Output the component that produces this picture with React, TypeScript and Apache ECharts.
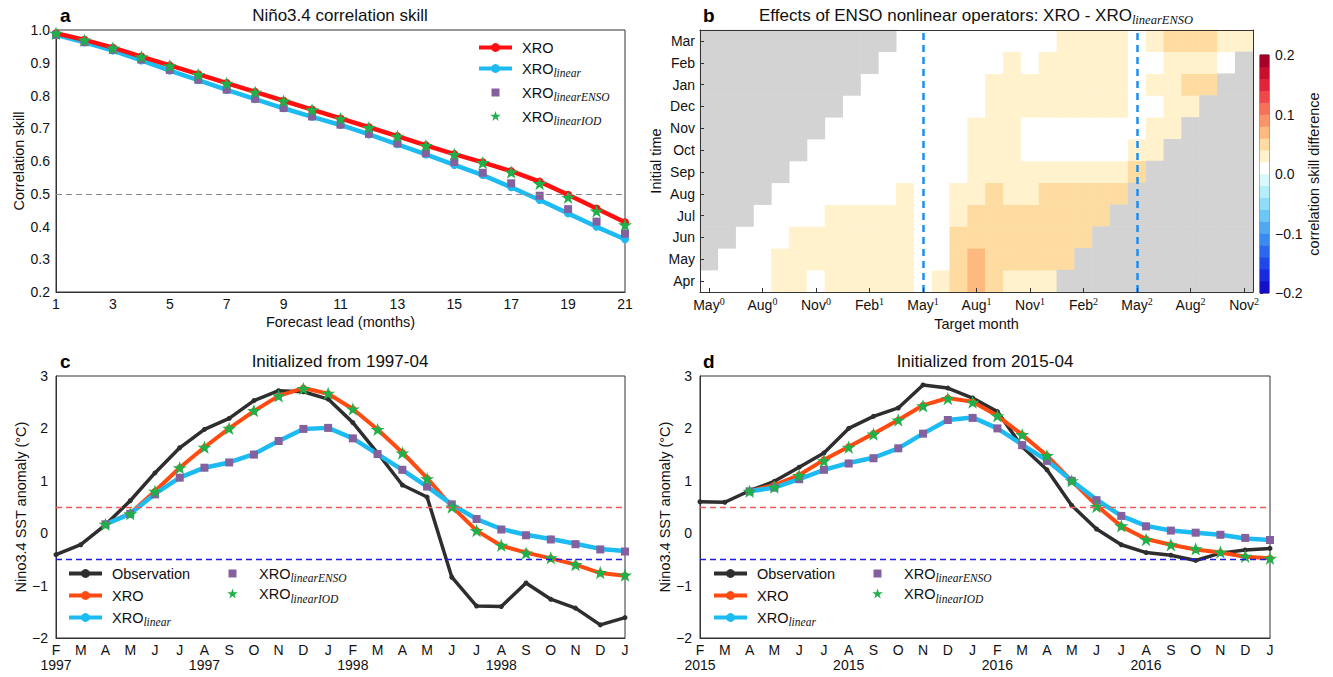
import React, { useEffect, useRef } from 'react';
import * as echarts from 'echarts';

const FONT = '"Liberation Sans", Arial, Helvetica, sans-serif';
const SERIF = '"Liberation Serif", "DejaVu Serif", serif';
const STAR = 'path://M0,-10L2.245,-3.09L9.511,-3.09L3.633,1.18L5.878,8.09L0,3.82L-5.878,8.09L-3.633,1.18L-9.511,-3.09L-2.245,-3.09Z';
const LEGEND_SQUARE = 'path://M-1.5,-1.5M0,0L8,0L8,8L0,8Z M9.5,9.5';
const LEGEND_STAR = 'path://M-10,-10M0,-10L2.245,-3.09L9.511,-3.09L3.633,1.18L5.878,8.09L0,3.82L-5.878,8.09L-3.633,1.18L-9.511,-3.09L-2.245,-3.09Z M10,10';

// ---------- Panel a: correlation skill vs lead ----------
const leads = ['1', '2', '3', '4', '5', '6', '7', '8', '9', '10', '11', '12', '13', '14', '15', '16', '17', '18', '19', '20', '21'];
const skillXRO = [0.99, 0.97, 0.946, 0.919, 0.892, 0.865, 0.838, 0.811, 0.784, 0.757, 0.73, 0.703, 0.676, 0.648, 0.621, 0.596, 0.569, 0.537, 0.497, 0.455, 0.413];
const skillLinear = [0.985, 0.962, 0.937, 0.907, 0.876, 0.847, 0.817, 0.789, 0.761, 0.735, 0.71, 0.681, 0.651, 0.62, 0.588, 0.557, 0.52, 0.481, 0.44, 0.399, 0.361];
const skillLinearENSO = [0.985, 0.963, 0.94, 0.91, 0.878, 0.848, 0.818, 0.79, 0.762, 0.736, 0.711, 0.683, 0.654, 0.624, 0.597, 0.564, 0.532, 0.494, 0.453, 0.415, 0.378];
const skillLinearIOD = [0.99, 0.969, 0.945, 0.918, 0.891, 0.864, 0.837, 0.81, 0.783, 0.756, 0.729, 0.702, 0.675, 0.647, 0.62, 0.595, 0.566, 0.531, 0.489, 0.447, 0.405];

// ---------- Panel b: skill difference heatmap ----------
const initMonths = ['Apr', 'May', 'Jun', 'Jul', 'Aug', 'Sep', 'Oct', 'Nov', 'Dec', 'Jan', 'Feb', 'Mar'];
const targetMonths = ['May0', 'Jun0', 'Jul0', 'Aug0', 'Sep0', 'Oct0', 'Nov0', 'Dec0', 'Jan1', 'Feb1', 'Mar1', 'Apr1', 'May1', 'Jun1', 'Jul1', 'Aug1', 'Sep1', 'Oct1', 'Nov1', 'Dec1', 'Jan2', 'Feb2', 'Mar2', 'Apr2', 'May2', 'Jun2', 'Jul2', 'Aug2', 'Sep2', 'Oct2', 'Nov2'];
const _ = null;
// rows: initial month Apr..Mar ; columns: target month May0..Nov2 ; null = outside lead range
const skillDiff: (number | null)[][] = [
  [0.01, 0.01, 0.01, 0.01, 0.03, 0.03, 0.01, 0.03, 0.03, 0.03, 0.03, 0.03, 0.01, 0.03, 0.05, 0.07, 0.05, 0.03, 0.03, 0.03, _, _, _, _, _, _, _, _, _, _, _],
  [_, 0.01, 0.01, 0.01, 0.03, 0.03, 0.03, 0.03, 0.03, 0.03, 0.03, 0.03, 0.01, 0.01, 0.05, 0.07, 0.05, 0.05, 0.05, 0.05, 0.05, _, _, _, _, _, _, _, _, _, _],
  [_, _, 0.01, 0.01, 0.01, 0.03, 0.03, 0.03, 0.03, 0.03, 0.03, 0.03, 0.01, 0.01, 0.05, 0.05, 0.05, 0.05, 0.05, 0.05, 0.05, 0.05, _, _, _, _, _, _, _, _, _],
  [_, _, _, 0.01, 0.01, 0.01, 0.01, 0.03, 0.03, 0.03, 0.03, 0.03, 0.01, 0.01, 0.03, 0.05, 0.05, 0.05, 0.05, 0.05, 0.05, 0.05, 0.05, _, _, _, _, _, _, _, _],
  [_, _, _, _, 0.01, 0.01, 0.01, 0.01, 0.01, 0.01, 0.01, 0.03, 0.01, 0.01, 0.03, 0.03, 0.05, 0.03, 0.03, 0.05, 0.05, 0.05, 0.05, 0.05, _, _, _, _, _, _, _],
  [_, _, _, _, _, 0.01, 0.01, 0.01, 0.01, 0.01, 0.01, 0.01, 0.01, 0.01, 0.01, 0.03, 0.03, 0.03, 0.03, 0.03, 0.03, 0.03, 0.03, 0.03, 0.05, _, _, _, _, _, _],
  [_, _, _, _, _, _, 0.01, 0.01, 0.01, 0.01, 0.01, 0.01, 0.01, 0.01, 0.01, 0.03, 0.03, 0.03, 0.01, 0.01, 0.01, 0.01, 0.01, 0.01, 0.03, 0.03, _, _, _, _, _],
  [_, _, _, _, _, _, _, 0.01, 0.01, 0.01, 0.01, 0.01, 0.01, 0.01, 0.01, 0.03, 0.03, 0.03, 0.01, 0.01, 0.01, 0.01, 0.01, 0.01, 0.01, 0.03, 0.03, _, _, _, _],
  [_, _, _, _, _, _, _, _, 0.01, 0.01, 0.01, 0.01, 0.01, 0.01, 0.01, 0.01, 0.03, 0.03, 0.03, 0.03, 0.03, 0.03, 0.03, 0.03, 0.01, 0.01, 0.03, 0.03, _, _, _],
  [_, _, _, _, _, _, _, _, _, 0.01, 0.01, 0.01, 0.01, 0.01, 0.01, 0.01, 0.03, 0.03, 0.03, 0.03, 0.03, 0.03, 0.03, 0.03, 0.01, 0.03, 0.03, 0.05, 0.05, _, _],
  [_, _, _, _, _, _, _, _, _, _, 0.01, 0.01, 0.01, 0.01, 0.01, 0.01, 0.01, 0.03, 0.01, 0.03, 0.03, 0.03, 0.03, 0.03, 0.01, 0.01, 0.03, 0.03, 0.03, 0.01, _],
  [_, _, _, _, _, _, _, _, _, _, _, 0.01, 0.01, 0.01, 0.01, 0.01, 0.01, 0.01, 0.01, 0.01, 0.03, 0.03, 0.03, 0.03, 0.01, 0.03, 0.05, 0.05, 0.05, 0.03, 0.03],
];
const nonlinearMarks = [12, 24]; // May1, May2 column indices
const levelEdges = [-0.2, -0.18, -0.16, -0.14, -0.12, -0.1, -0.08, -0.06, -0.04, -0.02, 0, 0.02, 0.04, 0.06, 0.08, 0.1, 0.12, 0.14, 0.16, 0.18, 0.2];
const colorLevels = [-0.19, -0.17, -0.15, -0.13, -0.11, -0.09, -0.07, -0.05, -0.03, -0.01, 0.01, 0.03, 0.05, 0.07, 0.09, 0.11, 0.13, 0.15, 0.17, 0.19];
const levelColors = ['#1410c8', '#1a2ae0', '#2048e8', '#2c68ee', '#3a8af0', '#4fa8f2', '#6cc6f7', '#8fddf9', '#b4eefa', '#d8f8fc', '#ffffff', '#fff2cc', '#fedba0', '#fdb97e', '#fa9468', '#f6705a', '#f0484a', '#e3233a', '#c8102e', '#a50026'];

// ---------- Panels c, d: Nino3.4 forecasts ----------
const monthLetters = ['F', 'M', 'A', 'M', 'J', 'J', 'A', 'S', 'O', 'N', 'D', 'J', 'F', 'M', 'A', 'M', 'J', 'J', 'A', 'S', 'O', 'N', 'D', 'J'];
const yearLabels1997 = ['1997', '', '', '', '', '', '1997', '', '', '', '', '', '1998', '', '', '', '', '', '1998', '', '', '', '', ''];
const yearLabels2015 = ['2015', '', '', '', '', '', '2015', '', '', '', '', '', '2016', '', '', '', '', '', '2016', '', '', '', '', ''];

const obs1997 = [-0.41, -0.22, 0.16, 0.62, 1.15, 1.63, 1.98, 2.19, 2.53, 2.72, 2.7, 2.56, 2.11, 1.53, 0.92, 0.69, -0.84, -1.39, -1.4, -0.95, -1.26, -1.43, -1.75, -1.61];
const xro1997 = [_, _, 0.17, 0.38, 0.8, 1.25, 1.64, 2.0, 2.33, 2.62, 2.77, 2.66, 2.37, 1.98, 1.54, 1.05, 0.51, 0.05, -0.24, -0.37, -0.48, -0.6, -0.76, -0.81];
const lin1997 = [_, _, 0.17, 0.37, 0.75, 1.06, 1.25, 1.35, 1.51, 1.76, 1.99, 2.01, 1.81, 1.51, 1.21, 0.89, 0.55, 0.27, 0.08, -0.03, -0.11, -0.2, -0.3, -0.34];
const enso1997 = [_, _, 0.17, 0.37, 0.74, 1.06, 1.25, 1.35, 1.5, 1.76, 1.99, 2.01, 1.81, 1.51, 1.21, 0.89, 0.55, 0.27, 0.07, -0.04, -0.12, -0.21, -0.31, -0.35];
const iod1997 = [_, _, 0.17, 0.37, 0.8, 1.25, 1.64, 2.0, 2.34, 2.62, 2.76, 2.67, 2.37, 1.98, 1.53, 1.04, 0.5, 0.05, -0.23, -0.38, -0.47, -0.6, -0.75, -0.8];

const obs2015 = [0.6, 0.59, 0.81, 0.99, 1.26, 1.53, 2.0, 2.23, 2.39, 2.83, 2.77, 2.58, 2.32, 1.65, 1.21, 0.53, 0.08, -0.22, -0.37, -0.42, -0.52, -0.38, -0.32, -0.29];
const xro2015 = [_, _, 0.8, 0.92, 1.11, 1.4, 1.65, 1.9, 2.16, 2.44, 2.58, 2.51, 2.24, 1.88, 1.48, 1.0, 0.53, 0.13, -0.11, -0.22, -0.31, -0.37, -0.45, -0.48];
const lin2015 = [_, _, 0.8, 0.87, 1.03, 1.21, 1.34, 1.44, 1.62, 1.9, 2.16, 2.21, 2.0, 1.69, 1.39, 1.0, 0.64, 0.33, 0.14, 0.05, 0.01, -0.03, -0.1, -0.13];
const enso2015 = [_, _, 0.8, 0.87, 1.03, 1.21, 1.33, 1.43, 1.62, 1.9, 2.16, 2.2, 2.0, 1.68, 1.38, 1.0, 0.63, 0.33, 0.13, 0.05, 0.01, -0.03, -0.09, -0.13];
const iod2015 = [_, _, 0.8, 0.88, 1.1, 1.38, 1.64, 1.89, 2.16, 2.43, 2.57, 2.5, 2.24, 1.88, 1.48, 1.0, 0.51, 0.14, -0.12, -0.22, -0.3, -0.36, -0.44, -0.48];

// ---------- styles ----------
const C_RED = '#ff1010';
const C_ORANGE = '#ff4a12';
const C_BLUE = '#1cbcf2';
const C_PURPLE = '#85609f';
const C_GREEN = '#1fb04a';
const C_OBS = '#2e2e2e';
const AX = '#333';
const TXT = '#111';

const legendText: Record<string, string> = {
  obs: '{n|Observation}',
  XRO: '{n|XRO}',
  lin: '{n|XRO}{s|linear}',
  ENSO: '{n|XRO}{s|linearENSO}',
  IOD: '{n|XRO}{s|linearIOD}',
};
const subRich = {
  n: { fontSize: 14.5, fontFamily: FONT, color: TXT, lineHeight: 21, padding: [0, 0, 0, 5] },
  s: { fontSize: 11.5, fontFamily: SERIF, fontStyle: 'italic', color: TXT, lineHeight: 11, verticalAlign: 'bottom' },
};

const nul = (arr: (number | null)[]) => arr.map((v) => (v === null ? '-' : v));

function lineS(name: string, xi: number, yi: number, data: (number | null)[], color: string, width: number, size: number, extra: any = {}) {
  return {
    type: 'line', name, xAxisIndex: xi, yAxisIndex: yi, data: nul(data),
    lineStyle: { color, width }, itemStyle: { color }, symbol: 'circle', symbolSize: size,
    showAllSymbol: true, connectNulls: false, emphasis: { disabled: true }, ...extra,
  };
}
function scatS(name: string, xi: number, yi: number, data: (number | null)[], color: string, symbol: string, size: number) {
  return {
    type: 'scatter', name, xAxisIndex: xi, yAxisIndex: yi, data: nul(data),
    symbol, symbolSize: size, symbolKeepAspect: true, itemStyle: { color, opacity: 1 }, emphasis: { disabled: true }, z: 4,
  };
}
function refLine(value: number, color: string, width = 1) {
  return {
    silent: true, symbol: ['none', 'none'], label: { show: false }, emphasis: { disabled: true },
    lineStyle: { color, type: [6, 4], width, opacity: 1 },
    data: [{ yAxis: value, lineStyle: { color, type: [6, 4], width, opacity: 1 } }],
  };
}

const plainAxisLine = { show: true, onZero: false, lineStyle: { color: AX, width: 1 } };
const lbl = { color: TXT, fontSize: 14, fontFamily: FONT };
const nameStyle = { color: TXT, fontSize: 14.5, fontFamily: FONT };

function buildOption() {
  const heatData: number[][] = [];
  const grayData: number[][] = [];
  skillDiff.forEach((row, r) =>
    row.forEach((v, c) => {
      if (v === null) grayData.push([c, r, 0]);
      else heatData.push([c, r, v]);
    })
  );
  const pieces = levelColors.map((color, i) => ({ min: levelEdges[i], max: levelEdges[i + 1], color }));

  const sstAxis = (gridIndex: number, years: string[]) => ({
    type: 'category', gridIndex, data: monthLetters, boundaryGap: false,
    axisLine: plainAxisLine, axisTick: { show: false }, splitLine: { show: false },
    axisLabel: {
      ...lbl, interval: 0, margin: 4, lineHeight: 15,
      formatter: (v: string, i: number) => (years[i] ? `${v}\n${years[i]}` : v),
    },
  });
  const sstY = (gridIndex: number, gap: number) => ({
    type: 'value', gridIndex, min: -2, max: 3, interval: 1,
    axisLine: plainAxisLine, axisTick: { show: false }, splitLine: { show: false },
    axisLabel: { ...lbl, margin: 8, formatter: (v: number) => String(v).replace('-', '\u2212') },
    name: 'Nino3.4 SST anomaly (\u00b0C)', nameLocation: 'middle', nameGap: gap, nameTextStyle: nameStyle,
  });

  const legendBase = {
    orient: 'vertical', itemWidth: 33, itemHeight: 11, padding: 0, selectedMode: false,
    lineStyle: { width: 4 },
    formatter: (name: string) => legendText[name.split('-')[1]],
    textStyle: { fontFamily: FONT, fontSize: 14.5, color: TXT, rich: subRich },
  };
  const lgItems = (p: string, keys: string[]) =>
    keys.map((k) => (k === 'ENSO' ? { name: `${p}-${k}`, icon: LEGEND_SQUARE } : k === 'IOD' ? { name: `${p}-${k}`, icon: LEGEND_STAR } : { name: `${p}-${k}` }));

  return {
    animation: false,
    backgroundColor: '#ffffff',
    textStyle: { fontFamily: FONT },
    grid: [
      { left: 56, top: 30, width: 569, height: 262, show: true, borderColor: AX, borderWidth: 1, outerBoundsMode: 'none' },
      { left: 700, top: 30, width: 553, height: 262, outerBoundsMode: 'none' },
      { left: 1260, top: 55, width: 9, height: 238, show: true, borderColor: AX, borderWidth: 1, outerBoundsMode: 'none' },
      { left: 56, top: 376, width: 569, height: 262, show: true, borderColor: AX, borderWidth: 1, outerBoundsMode: 'none' },
      { left: 700, top: 376, width: 570, height: 262, show: true, borderColor: AX, borderWidth: 1, outerBoundsMode: 'none' },
    ],
    xAxis: [
      {
        type: 'category', gridIndex: 0, data: leads, boundaryGap: false,
        axisLine: plainAxisLine, axisTick: { show: false }, splitLine: { show: false },
        axisLabel: { ...lbl, interval: 1, margin: 5 },
        name: 'Forecast lead (months)', nameLocation: 'middle', nameGap: 22, nameTextStyle: nameStyle,
      },
      {
        type: 'category', gridIndex: 1, data: targetMonths, z: 10,
        axisLine: plainAxisLine,
        axisTick: { show: true, inside: true, alignWithLabel: true, interval: 2, length: 4, lineStyle: { color: AX } },
        splitLine: { show: false },
        axisLabel: {
          interval: 2, margin: 4,
          formatter: (v: string) => `{m|${v.slice(0, 3)}}{p|${v.slice(3)}}`,
          rich: {
            m: { fontSize: 14, fontFamily: FONT, color: TXT, lineHeight: 17 },
            p: { fontSize: 10, fontFamily: SERIF, color: TXT, lineHeight: 10, verticalAlign: 'top' },
          },
        },
        name: 'Target month', nameLocation: 'middle', nameGap: 24, nameTextStyle: nameStyle,
      },
      {
        type: 'category', gridIndex: 1, data: targetMonths, position: 'top', z: 10,
        axisLine: plainAxisLine, axisTick: { show: false }, axisLabel: { show: false }, splitLine: { show: false },
      },
      { type: 'category', gridIndex: 2, data: [''], show: false },
      sstAxis(3, yearLabels1997),
      sstAxis(4, yearLabels2015),
    ],
    yAxis: [
      {
        type: 'value', gridIndex: 0, min: 0.2, max: 1.0, interval: 0.1,
        axisLine: plainAxisLine, axisTick: { show: false }, splitLine: { show: false },
        axisLabel: { ...lbl, margin: 6, formatter: (v: number) => v.toFixed(1) },
        name: 'Correlation skill', nameLocation: 'middle', nameGap: 30, nameTextStyle: nameStyle,
      },
      {
        type: 'category', gridIndex: 1, data: initMonths, z: 10,
        axisLine: plainAxisLine,
        axisTick: { show: true, inside: true, alignWithLabel: true, length: 4, lineStyle: { color: AX } },
        splitLine: { show: false },
        axisLabel: { ...lbl, margin: 5, interval: 0 },
        name: 'Initial time', nameLocation: 'middle', nameGap: 37, nameTextStyle: nameStyle,
      },
      {
        type: 'category', gridIndex: 1, data: initMonths, position: 'right', z: 10,
        axisLine: plainAxisLine, axisTick: { show: false }, axisLabel: { show: false }, splitLine: { show: false },
      },
      { type: 'category', gridIndex: 2, data: colorLevels.map(String), show: false },
      {
        type: 'value', gridIndex: 2, position: 'right', min: -0.2, max: 0.2, interval: 0.1,
        axisLine: { show: false }, axisTick: { show: false }, splitLine: { show: false },
        axisLabel: { ...lbl, fontSize: 14, margin: 6, formatter: (v: number) => v.toFixed(1).replace('-', '\u2212') },
        name: 'correlation skill difference', nameLocation: 'middle', nameGap: 36, nameRotate: 90, nameTextStyle: nameStyle,
      },
      {
        type: 'value', gridIndex: 2, position: 'left', min: -0.2, max: 0.2, interval: 0.1,
        axisLine: { show: false },
        axisTick: { show: true, inside: true, length: 3, lineStyle: { color: AX } },
        minorTick: { show: true, splitNumber: 5, length: 3, lineStyle: { color: AX } },
        axisLabel: { show: false }, splitLine: { show: false },
      },
      sstY(3, 27),
      sstY(4, 28),
    ],
    visualMap: [
      { type: 'piecewise', show: false, seriesIndex: [4, 6], pieces },
      { type: 'piecewise', show: false, seriesIndex: [5], pieces: [{ min: -1, max: 1, color: '#d3d3d3' }] },
    ],
    legend: [
      { ...legendBase, left: 477, top: 40, itemGap: 6, data: lgItems('a', ['XRO', 'lin', 'ENSO', 'IOD']) },
      { ...legendBase, left: 67, top: 566, itemGap: 7, data: lgItems('c', ['obs', 'XRO', 'lin']) },
      { ...legendBase, left: 227, top: 566, itemGap: 2.5, data: lgItems('c', ['ENSO', 'IOD']) },
      { ...legendBase, left: 712, top: 566, itemGap: 7, data: lgItems('d', ['obs', 'XRO', 'lin']) },
      { ...legendBase, left: 872, top: 566, itemGap: 2.5, data: lgItems('d', ['ENSO', 'IOD']) },
    ],
    graphic: [
      { type: 'text', x: 60, y: 15, style: { text: 'a', fontSize: 19, fontWeight: 'bold', fontFamily: FONT, fill: '#000', verticalAlign: 'middle' } },
      { type: 'text', x: 340, y: 15, style: { text: 'Ni\u00f1o3.4 correlation skill', fontSize: 17, fontFamily: FONT, fill: TXT, align: 'center', verticalAlign: 'middle' } },
      { type: 'text', x: 703, y: 15, style: { text: 'b', fontSize: 19, fontWeight: 'bold', fontFamily: FONT, fill: '#000', verticalAlign: 'middle' } },
      {
        type: 'text', x: 976, y: 15,
        style: {
          text: '{t|Effects of ENSO nonlinear operators: XRO - XRO}{s|linearENSO}', align: 'center', verticalAlign: 'middle',
          rich: {
            t: { fontSize: 17, fontFamily: FONT, fill: TXT, color: TXT, lineHeight: 22 },
            s: { fontSize: 12.5, fontFamily: SERIF, fontStyle: 'italic', fill: TXT, color: TXT, lineHeight: 12, verticalAlign: 'bottom' },
          },
        },
      },
      { type: 'text', x: 60, y: 361, style: { text: 'c', fontSize: 19, fontWeight: 'bold', fontFamily: FONT, fill: '#000', verticalAlign: 'middle' } },
      { type: 'text', x: 340, y: 361, style: { text: 'Initialized from 1997-04', fontSize: 17, fontFamily: FONT, fill: TXT, align: 'center', verticalAlign: 'middle' } },
      { type: 'text', x: 703, y: 361, style: { text: 'd', fontSize: 19, fontWeight: 'bold', fontFamily: FONT, fill: '#000', verticalAlign: 'middle' } },
      { type: 'text', x: 985, y: 361, style: { text: 'Initialized from 2015-04', fontSize: 17, fontFamily: FONT, fill: TXT, align: 'center', verticalAlign: 'middle' } },
    ],
    series: [
      // 0-3 panel a
      lineS('a-XRO', 0, 0, skillXRO, C_RED, 4.5, 8, { z: 3, markLine: refLine(0.5, '#888') }),
      lineS('a-lin', 0, 0, skillLinear, C_BLUE, 4.5, 8, { z: 2 }),
      scatS('a-ENSO', 0, 0, skillLinearENSO, C_PURPLE, 'rect', 8),
      scatS('a-IOD', 0, 0, skillLinearIOD, C_GREEN, STAR, 14),
      // 4-6 panel b + colorbar
      {
        type: 'heatmap', name: 'diff', xAxisIndex: 1, yAxisIndex: 1, data: heatData,
        itemStyle: { borderWidth: 0 }, emphasis: { disabled: true }, progressive: 0,
      },
      {
        type: 'heatmap', name: 'na', xAxisIndex: 1, yAxisIndex: 1, data: grayData, z: 3,
        itemStyle: { borderWidth: 0 }, emphasis: { disabled: true }, progressive: 0,
        markLine: {
          silent: true, symbol: ['none', 'none'], label: { show: false }, emphasis: { disabled: true },
          data: nonlinearMarks.map((c) => ({ xAxis: c })),
          lineStyle: { color: '#1e8ff0', type: [7, 5], width: 2.5 },
        },
      },
      {
        type: 'heatmap', name: 'cbar', xAxisIndex: 3, yAxisIndex: 3, data: colorLevels.map((v, k) => [0, k, v]),
        itemStyle: { borderWidth: 0 }, emphasis: { disabled: true },
      },
      // 7-11 panel c
      lineS('c-obs', 4, 6, obs1997, C_OBS, 3.5, 5, { z: 2, markLine: refLine(0.5, '#f25a5a', 1.3) }),
      lineS('c-XRO', 4, 6, xro1997, C_ORANGE, 4, 7, { z: 3, markLine: refLine(-0.5, '#1c1ce6', 1.3) }),
      lineS('c-lin', 4, 6, lin1997, C_BLUE, 4.5, 7, { z: 3 }),
      scatS('c-ENSO', 4, 6, enso1997, C_PURPLE, 'rect', 8),
      scatS('c-IOD', 4, 6, iod1997, C_GREEN, STAR, 14),
      // 12-16 panel d
      lineS('d-obs', 5, 7, obs2015, C_OBS, 3.5, 5, { z: 2, markLine: refLine(0.5, '#f25a5a', 1.3) }),
      lineS('d-XRO', 5, 7, xro2015, C_ORANGE, 4, 7, { z: 3, markLine: refLine(-0.5, '#1c1ce6', 1.3) }),
      lineS('d-lin', 5, 7, lin2015, C_BLUE, 4.5, 7, { z: 3 }),
      scatS('d-ENSO', 5, 7, enso2015, C_PURPLE, 'rect', 8),
      scatS('d-IOD', 5, 7, iod2015, C_GREEN, STAR, 14),
    ],
  };
}

export default function App() {
  const ref = useRef<HTMLDivElement>(null);
  useEffect(() => {
    if (!ref.current) return;
    const chart = echarts.init(ref.current, undefined, { renderer: 'svg' });
    chart.setOption(buildOption() as any);
    return () => chart.dispose();
  }, []);
  return <div ref={ref} style={{ position: 'fixed', left: 0, top: 0, width: 1333, height: 677, background: '#fff' }} />;
}
